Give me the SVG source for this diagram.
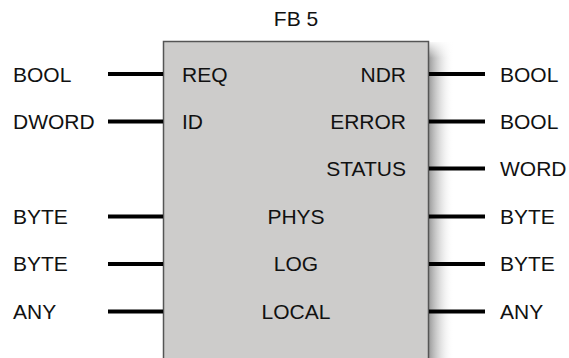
<svg xmlns="http://www.w3.org/2000/svg" width="569" height="358" viewBox="0 0 569 358">
<defs>
<linearGradient id="sh" x1="0" y1="0" x2="1" y2="0">
<stop offset="0" stop-color="#888" stop-opacity="0.9"/>
<stop offset="0.4" stop-color="#bbb" stop-opacity="0.6"/>
<stop offset="1" stop-color="#fff" stop-opacity="0"/>
</linearGradient>
<linearGradient id="shv" x1="0" y1="0" x2="0" y2="1">
<stop offset="0" stop-color="#fff" stop-opacity="1"/>
<stop offset="1" stop-color="#fff" stop-opacity="0"/>
</linearGradient>
<style>
text{font-family:"Liberation Sans",Arial,sans-serif;font-size:21px;fill:#111}
.r{text-anchor:end}
.m{text-anchor:middle}
.w{stroke:#000;stroke-width:4;fill:none}
</style>
</defs>
<rect x="428" y="42" width="26" height="316" fill="url(#sh)"/>
<rect x="428" y="40" width="30" height="18" fill="url(#shv)"/>
<g id="fb5">
<rect x="163.5" y="41.5" width="265" height="320" fill="#cdcccb" stroke="#555" stroke-width="1.5"/>
<text x="296" y="26" class="m">FB 5</text>
<text x="182" y="81.5">REQ</text>
<text x="182" y="129">ID</text>
<text x="406" y="81.5" class="r">NDR</text>
<text x="406" y="129" class="r">ERROR</text>
<text x="406" y="176" class="r">STATUS</text>
<text x="296" y="223.5" class="m">PHYS</text>
<text x="296" y="271" class="m">LOG</text>
<text x="296" y="318.5" class="m">LOCAL</text>
</g>
<g id="types">
<text x="13" y="81.5">BOOL</text>
<text x="13" y="129">DWORD</text>
<text x="13" y="223.5">BYTE</text>
<text x="13" y="271">BYTE</text>
<text x="13" y="318.5">ANY</text>
<text x="500" y="81.5">BOOL</text>
<text x="500" y="129">BOOL</text>
<text x="500" y="176">WORD</text>
<text x="500" y="223.5">BYTE</text>
<text x="500" y="271">BYTE</text>
<text x="500" y="318.5">ANY</text>
</g>
<g id="connectors">
<path class="w" d="M108 74H163M108 121.5H163M108 216.5H163M108 264H163M108 311.5H163"/>
<path class="w" d="M429 74H485M429 121.5H485M429 168.5H485M429 216.5H485M429 264H485M429 311.5H485"/>
</g>
</svg>
